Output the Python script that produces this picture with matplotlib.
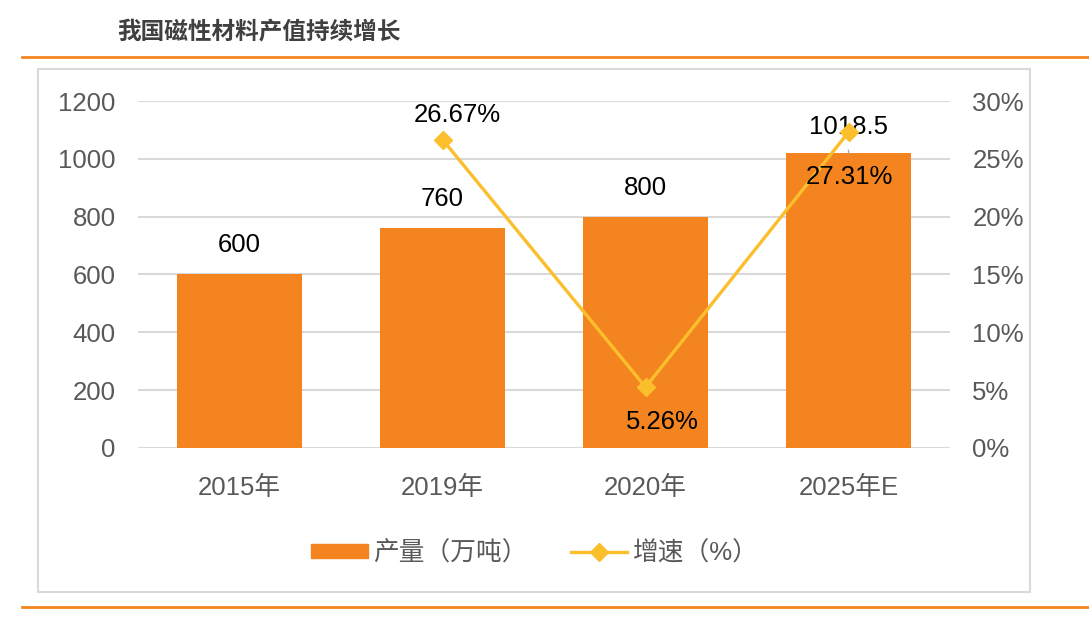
import matplotlib.pyplot as plt
from matplotlib.patches import Rectangle
from matplotlib.lines import Line2D

plt.rcParams['font.family'] = ['Liberation Sans', 'Noto Sans CJK SC', 'DejaVu Sans']

# data
years = ["2015年", "2019年", "2020年", "2025年E"]
output = [600, 760, 800, 1018.5]
growth = [None, 26.67, 5.26, 27.31]
output_labels = ["600", "760", "800", "1018.5"]
growth_labels = ["", "26.67%", "5.26%", "27.31%"]

bar_color = "#F4841F"
line_color = "#FBBF2C"
grid_color = "#D9D9D9"
tick_color = "#595959"
fs = 18.5

fig = plt.figure(figsize=(10.89, 6.19), dpi=100)

# frame and header lines
fig.add_artist(Rectangle((0.0349, 0.0436), 0.911, 0.845, transform=fig.transFigure,
                         fill=False, edgecolor=grid_color, linewidth=1.5))
fig.add_artist(Line2D([0.020, 1.0], [0.908, 0.908], transform=fig.transFigure,
                      color=bar_color, linewidth=2))
fig.add_artist(Line2D([0.020, 1.0], [0.0194, 0.0194], transform=fig.transFigure,
                      color=bar_color, linewidth=2))
fig.text(0.108, 0.947, "我国磁性材料产值持续增长", fontsize=17, fontweight="bold",
         color="#404040", ha="left", va="center")

ax = fig.add_axes([0.1267, 0.2763, 0.7457, 0.5605])
x = list(range(len(years)))
ax.bar(x, output, width=0.62, color=bar_color, zorder=2)
ax.set_xlim(-0.5, len(years) - 0.5)
ax.set_ylim(0, 1200)
ax.set_yticks(range(0, 1201, 200))
ax.set_xticks(x)
ax.set_xticklabels(years)
ax.yaxis.grid(True, color=grid_color, linewidth=1.5, zorder=0)
ax.set_axisbelow(True)
for s in ax.spines.values():
    s.set_visible(False)
ax.tick_params(axis="y", length=0, pad=16, labelsize=fs, labelcolor=tick_color)
ax.tick_params(axis="x", length=0, pad=20, labelsize=fs, labelcolor=tick_color)

for i, (v, lab) in enumerate(zip(output, output_labels)):
    if i == 3:
        ax.annotate(lab, xy=(i, v), xytext=(0, 19), textcoords="offset points",
                    ha="center", va="center", fontsize=fs, color="black",
                    arrowprops=dict(arrowstyle="-", color="#A6A6A6", lw=1,
                                    shrinkA=6, shrinkB=0))
    else:
        ax.annotate(lab, xy=(i, v), xytext=(0, 21), textcoords="offset points",
                    ha="center", va="center", fontsize=fs, color="black")

ax2 = ax.twinx()
gx = [i for i, g in enumerate(growth) if g is not None]
gy = [g for g in growth if g is not None]
ax2.plot(gx, gy, color=line_color, linewidth=2.4, marker="D", markersize=9, zorder=3)
ax2.set_ylim(0, 30)
ax2.set_yticks(range(0, 31, 5))
ax2.set_yticklabels([f"{t}%" for t in range(0, 31, 5)])
for s in ax2.spines.values():
    s.set_visible(False)
ax2.tick_params(axis="y", length=0, pad=16, labelsize=fs, labelcolor=tick_color)

offsets = {1: (11, 18), 2: (12, -25), 3: (1, -32)}
for i in gx:
    ax2.annotate(growth_labels[i], xy=(i, growth[i]), xytext=offsets[i],
                 textcoords="offset points", ha="center", va="center",
                 fontsize=fs, color="black")

handles = [Rectangle((0, 0), 1, 1, color=bar_color),
           Line2D([], [], color=line_color, linewidth=2.4, marker="D", markersize=9)]
fig.legend(handles, ["产量（万吨）", "增速（%）"], loc="center", bbox_to_anchor=(0.491, 0.1066),
           ncol=2, frameon=False, fontsize=fs, handlelength=2.2, handleheight=0.5,
           handletextpad=0.2, columnspacing=1.7, labelcolor=tick_color)

fig.savefig("out.png", dpi=100)
